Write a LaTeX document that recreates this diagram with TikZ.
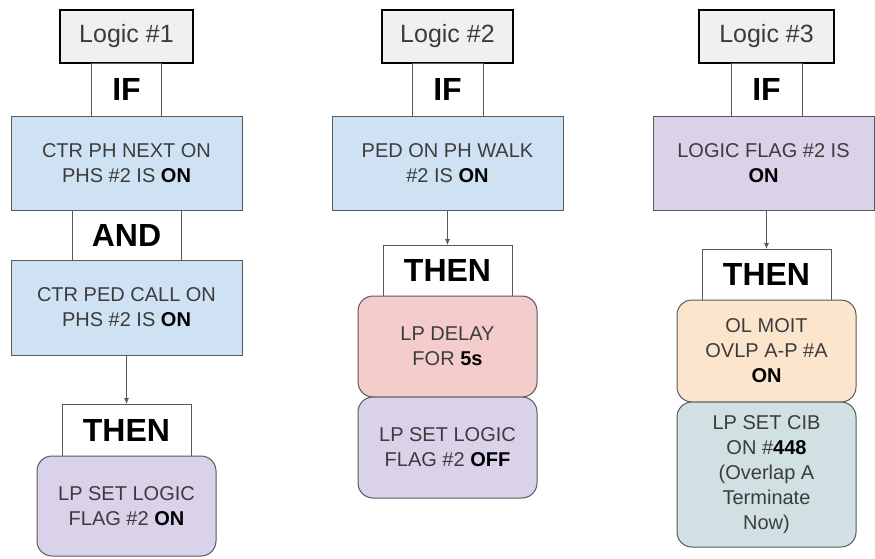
\documentclass[tikz,border=0pt]{standalone}
\usepackage{fontspec}
\setmainfont{Liberation Sans}
\usetikzlibrary{arrows.meta, positioning}

\definecolor{condblue}{HTML}{CFE2F3}
\definecolor{flagpurple}{HTML}{D9D2E9}
\definecolor{delayred}{HTML}{F4CCCC}
\definecolor{olorange}{HTML}{FCE5CD}
\definecolor{cibgrey}{HTML}{D0E0E3}
\definecolor{edgegrey}{HTML}{595959}
\definecolor{textgrey}{HTML}{3C3C3C}

\begin{document}
\begin{tikzpicture}[x=1pt, y=1pt,
						font=\fontsize{20}{25}\selectfont,
						node distance = 0pt, % Cajas apiladas sin espacio
						logicbox/.style = {rectangle, draw=black, line width=2.5pt, fill=black!6, outer sep=0pt,
										minimum width=133pt, minimum height=53pt, inner sep=0pt,
										font=\fontsize{25}{30}\selectfont, text=textgrey},
						wordbox/.style = {rectangle, draw=edgegrey, line width=1pt, fill=white, outer sep=0pt,
										inner sep=0pt, font=\fontsize{32}{36}\selectfont\bfseries},
						condbox/.style = {rectangle, draw=edgegrey, line width=1pt, outer sep=0pt, inner sep=0pt,
										minimum width=231pt, minimum height=94pt, align=center, text=textgrey},
						actbox/.style = {rectangle, draw=edgegrey, line width=1pt, rounded corners=15pt, outer sep=0pt,
										inner sep=0pt, minimum width=179pt, minimum height=101pt, align=center, text=textgrey},
						line/.style = {-{Latex[length=6pt,width=5pt]}, draw=edgegrey, line width=0.8pt}
						]

						\useasboundingbox (0,0) rectangle (875,-558);

						% --- Logic #1 ---
						\node[logicbox] (logic_one) at (126.5,-36.5) {Logic \#1};
						\node[wordbox, minimum width=70pt, minimum height=53pt, below=of logic_one] (if_one) {IF};
						\node[condbox, fill=condblue, below=of if_one] (ph_next) {CTR PH NEXT ON \\ PHS \#2 IS \textbf{\color{black}ON}};
						\node[wordbox, minimum width=109pt, minimum height=50pt, below=of ph_next] (and_one) {AND};
						\node[condbox, fill=condblue, minimum height=95pt, below=of and_one] (ped_call) {CTR PED CALL ON \\ PHS \#2 IS \textbf{\color{black}ON}};
						\node[wordbox, minimum width=129pt, minimum height=52pt, below=49pt of ped_call] (then_one) {THEN};
						\node[actbox, fill=flagpurple, minimum height=100pt, below=of then_one] (flag_on) {LP SET LOGIC \\ FLAG \#2 \textbf{\color{black}ON}};

						% --- Logic #2 ---
						\node[logicbox, minimum width=131pt] (logic_two) at (447.5,-36.5) {Logic \#2};
						\node[wordbox, minimum width=71pt, minimum height=53pt, below=of logic_two] (if_two) {IF};
						\node[condbox, fill=condblue, below=of if_two] (ped_walk) {PED ON PH WALK \\ \#2 IS \textbf{\color{black}ON}};
						\node[wordbox, minimum width=129pt, minimum height=51pt, below=35pt of ped_walk] (then_two) {THEN};
						\node[actbox, fill=delayred, below=of then_two] (delay) {LP DELAY \\ FOR \textbf{\color{black}5s}};
						\node[actbox, fill=flagpurple, below=of delay] (flag_off) {LP SET LOGIC \\ FLAG \#2 \textbf{\color{black}OFF}};

						% --- Logic #3 ---
						\node[logicbox, minimum width=135pt] (logic_three) at (766.5,-36.5) {Logic \#3};
						\node[wordbox, minimum width=71pt, minimum height=53pt, below=of logic_three] (if_three) {IF};
						\node[condbox, fill=flagpurple, minimum width=221pt, below=of if_three, xshift=-3pt] (flag_check) {LOGIC FLAG \#2 IS \\ \textbf{\color{black}ON}};
						\node[wordbox, minimum width=129pt, minimum height=51pt, below=39pt of if_three |- flag_check.south] (then_three) {THEN};
						\node[actbox, fill=olorange, minimum height=102pt, below=of then_three] (ovlp) {OL MOIT \\ OVLP A-P \#A \\ \textbf{\color{black}ON}};
						\node[actbox, fill=cibgrey, minimum height=145pt, below=of ovlp] (cib) {LP SET CIB \\ ON \#\textbf{\color{black}448} \\ (Overlap A \\ Terminate \\ Now)};

						% --- Conexiones ---
						\draw[line] (ped_call) -- (then_one);
						\draw[line] (ped_walk) -- (then_two);
						\draw[line] (flag_check.south -| then_three) -- (then_three);

\end{tikzpicture}
\end{document}
